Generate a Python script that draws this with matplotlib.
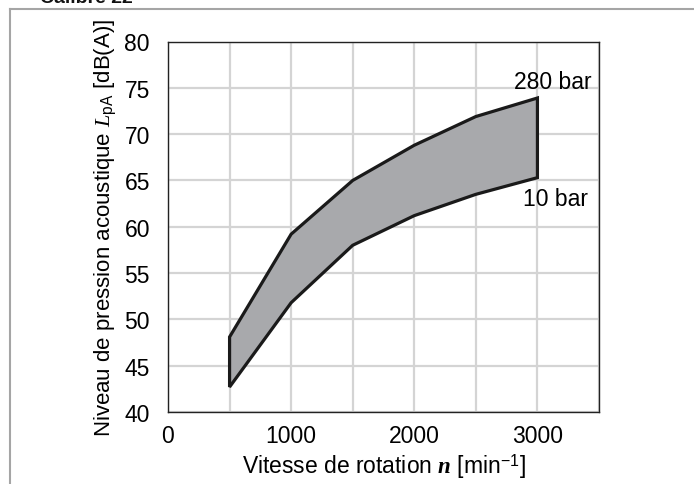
import matplotlib
matplotlib.use("Agg")
import matplotlib.pyplot as plt
from matplotlib.ticker import MultipleLocator
import numpy as np

plt.rcParams['font.family'] = ['Liberation Sans', 'DejaVu Sans']
plt.rcParams['mathtext.fontset'] = 'custom'
plt.rcParams['mathtext.rm'] = 'Liberation Sans'
plt.rcParams['mathtext.sf'] = 'Liberation Sans'
plt.rcParams['mathtext.it'] = 'Liberation Serif:italic'
plt.rcParams['mathtext.bf'] = 'Liberation Serif:italic:bold'

speed = [500, 1000, 1500, 2000, 2500, 3000]
level_280bar = [48.1, 59.2, 65.0, 68.8, 71.9, 73.9]
level_10bar = [42.7, 51.8, 58.0, 61.2, 63.5, 65.3]
label_top = "280 bar"
label_bottom = "10 bar"
x_ticks = [0, 1000, 2000, 3000]
y_ticks = [40, 45, 50, 55, 60, 65, 70, 75, 80]

fig = plt.figure(figsize=(6.94, 4.85), dpi=100)
ax = fig.add_axes([168/694, (485-413)/485, 431/694, 370.5/485])

# outer frame of the page
fig.add_artist(plt.Line2D([10/694, 10/694], [0, 1-10/485], transform=fig.transFigure,
                          color='#a5a5a5', lw=1.5))
fig.add_artist(plt.Line2D([10/694, 1], [1-10/485, 1-10/485], transform=fig.transFigure,
                          color='#a5a5a5', lw=1.5))
# page heading, cut by the top edge as in the reference
fig.text(40/694, 1-3/485, "Calibre 22", fontsize=14, fontweight='bold',
         ha='left', va='baseline', color='#111111')

xs = np.array(speed + speed[::-1])
ys = np.array(level_280bar + level_10bar[::-1])
ax.fill(xs, ys, facecolor='#a8a9ac', edgecolor='#1a1a1a', lw=2.3, joinstyle='miter', zorder=3)

ax.set_xlim(0, 3500)
ax.set_ylim(40, 80)
ax.set_xticks(x_ticks)
ax.set_yticks(y_ticks)
ax.xaxis.set_minor_locator(MultipleLocator(500))
ax.grid(True, which='both', color='#d4d4d4', lw=1.6, zorder=0)
ax.set_axisbelow(True)
ax.tick_params(which='both', length=0, labelsize=16.5)
ax.tick_params(axis='y', pad=13)
ax.tick_params(axis='x', pad=9)
for s in ax.spines.values():
    s.set_linewidth(1.0)
    s.set_color('#222222')
    s.set_zorder(4)

ax.set_xlabel(r"Vitesse de rotation $\mathbf{n}$ [min$^{\mathrm{-1}}$]", fontsize=16.5, labelpad=3)
ax.set_ylabel(r"Niveau de pression acoustique $L_{\mathrm{pA}}$ [dB(A)]", fontsize=16, labelpad=5)

ax.text(3126, 75.7, label_top, fontsize=16.5, ha='center', va='center', zorder=5)
ax.text(2880, 63.0, label_bottom, fontsize=16.5, ha='left', va='center', zorder=5)

fig.savefig("out.png", dpi=100)
